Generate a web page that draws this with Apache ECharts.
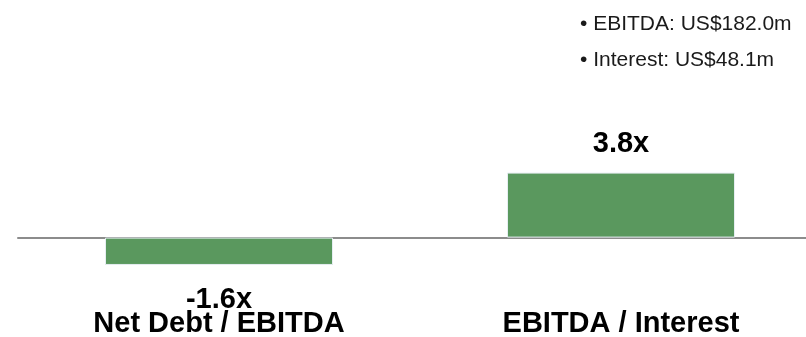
<!DOCTYPE html>
<html>
<head>
<meta charset="utf-8">
<script src="https://cdn.jsdelivr.net/npm/echarts@6/dist/echarts.min.js"></script>
<style>
	html, body { margin: 0; padding: 0; background: #fff; }
	#chart { width: 806px; height: 337px; }
</style>
</head>
<body>
<div id="chart"></div>
<script>
// ratios shown in the chart
const categories = ["Net Debt / EBITDA", "EBITDA / Interest"];
const ratios = [-1.6, 3.8];
const notes = ["• EBITDA: US$182.0m", "• Interest: US$48.1m"];

const font = "'Liberation Sans', Arial, sans-serif";
const green = "#5a985e";

const myChart = echarts.init(document.getElementById("chart"));

const option = {
	animation: false,
	grid: {
		left: 18,
		width: 804,
		top: 135,
		bottom: 31,
		outerBoundsMode: "none"
	},
	xAxis: {
		type: "category",
		data: categories,
		axisLine: {
			onZero: true,
			lineStyle: { color: "#8c8c8c", width: 2 }
		},
		axisTick: { show: false },
		axisLabel: {
			// labels sit below the grid bottom, not the zero line
			margin: 8,
			lineHeight: 20,
			interval: 0,
			color: "#000",
			fontFamily: font,
			fontWeight: "bold",
			fontSize: 29
		}
	},
	yAxis: {
		type: "value",
		min: -4,
		max: 6,
		show: false
	},
	series: [
		{
			type: "bar",
			barWidth: 228,
			data: ratios.map(v => ({
				value: v,
				label: {
					position: v < 0 ? "bottom" : "top",
					distance: v < 0 ? 25 : 19
				}
			})),
			itemStyle: {
				color: green,
				borderColor: "#e6eef2",
				borderWidth: 1
			},
			label: {
				show: true,
				formatter: p => p.value.toFixed(1) + "x",
				color: "#000",
				fontFamily: font,
				fontWeight: "bold",
				fontSize: 29,
				lineHeight: 20
			}
		}
	],
	graphic: notes.map((t, i) => ({
		type: "text",
		left: 580,
		top: 14 + i * 36,
		style: {
			text: t,
			fill: "#1a1a1a",
			font: "21px " + font
		}
	}))
};

myChart.setOption(option);
</script>
</body>
</html>
